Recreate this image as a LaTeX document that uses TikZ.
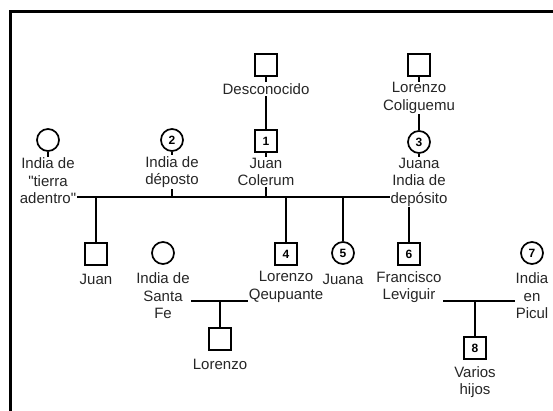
\documentclass[tikz,border=0pt]{standalone}
\usepackage{fontspec}
\setmainfont{Liberation Sans}
\usetikzlibrary{backgrounds}

\begin{document}
\begin{tikzpicture}[
  x=1pt, y=-1pt,
  male/.style={draw, line width=1.7pt, minimum size=22pt, inner sep=0pt, font=\fontsize{12}{12}\selectfont\bfseries},
  female/.style={draw, circle, line width=1.7pt, minimum size=22pt, inner sep=0pt, font=\fontsize{12}{12}\selectfont\bfseries},
  who/.style={align=center, fill=white, inner sep=1pt, text=black!85, font=\fontsize{15}{17.5}\selectfont},
  link/.style={line width=1.5pt}
]
  \useasboundingbox (0,0) rectangle (553,411);
  \draw[line width=3pt] (10,411) -- (10,12) -- (553,12);

  % generations
  \node[male] (desc) at (266,65) {};
  \node[male] (lcol) at (419,65) {};
  \node[female] (tierra) at (48,140) {};
  \node[female] (p2) at (172,140) {2};
  \node[male] (p1) at (266,141) {1};
  \node[female] (p3) at (419,142) {3};
  \node[male] (juan) at (96,254) {};
  \node[female] (sfe) at (163,253) {};
  \node[male] (p4) at (286,254) {4};
  \node[female] (p5) at (343,253) {5};
  \node[male] (p6) at (409,254) {6};
  \node[female] (p7) at (532,253) {7};
  \node[male] (lor) at (220,339) {};
  \node[male] (p8) at (475,348) {8};

  \coordinate (u1a) at (48,197);
  \coordinate (u1b) at (419,197);
  \coordinate (u2a) at (188,301);
  \coordinate (u2b) at (248,301);
  \coordinate (u3a) at (442,301);
  \coordinate (u3b) at (515,301);

  \begin{scope}[on background layer]
    \draw[link] (desc) -- (p1);
    \draw[link] (lcol) -- (p3);
    \draw[link] (u1a) -- (u1b);
    \draw[link] (tierra) -- (tierra |- u1a);
    \draw[link] (p2) -- (p2 |- u1a);
    \draw[link] (p1) -- (p1 |- u1a);
    \draw[link] (p3) -- (p3 |- u1a);
    \draw[link] (juan |- u1a) -- (juan);
    \draw[link] (p4 |- u1a) -- (p4);
    \draw[link] (p5 |- u1a) -- (p5);
    \draw[link] (p6 |- u1a) -- (p6);
    \draw[link] (u2a) -- (u2b);
    \draw[link] (lor |- u2a) -- (lor);
    \draw[link] (u3a) -- (u3b);
    \draw[link] (p8 |- u3a) -- (p8);
  \end{scope}

  \node[who] (descL) at (266,89) {Desconocido};
  \node[who] (lcolL) at (419,98) {Lorenzo\\Coliguemu};
  \node[who] (tierraL) at (48,181) {India de\\\textquotedbl tierra\\adentro\textquotedbl};
  \node[who] (p2L) at (172,172) {India de\\déposto};
  \node[who] (p1L) at (266,172) {Juan\\Colerum};
  \node[who] (p3L) at (419,182) {Juana\\India de\\depósito};
  \node[who] (juanL) at (96,279) {Juan};
  \node[who] (sfeL) at (163,296) {India de\\Santa\\Fe};
  \node[who] (p4L) at (286,287) {Lorenzo\\Qeupuante};
  \node[who] (p5L) at (343,279) {Juana};
  \node[who] (p6L) at (409,287) {Francisco\\Leviguir};
  \node[who] (p7L) at (532,296) {India\\en\\Picul};
  \node[who] (lorL) at (220,364) {Lorenzo};
  \node[who] (p8L) at (475,382) {Varios\\hijos};
\end{tikzpicture}
\end{document}
